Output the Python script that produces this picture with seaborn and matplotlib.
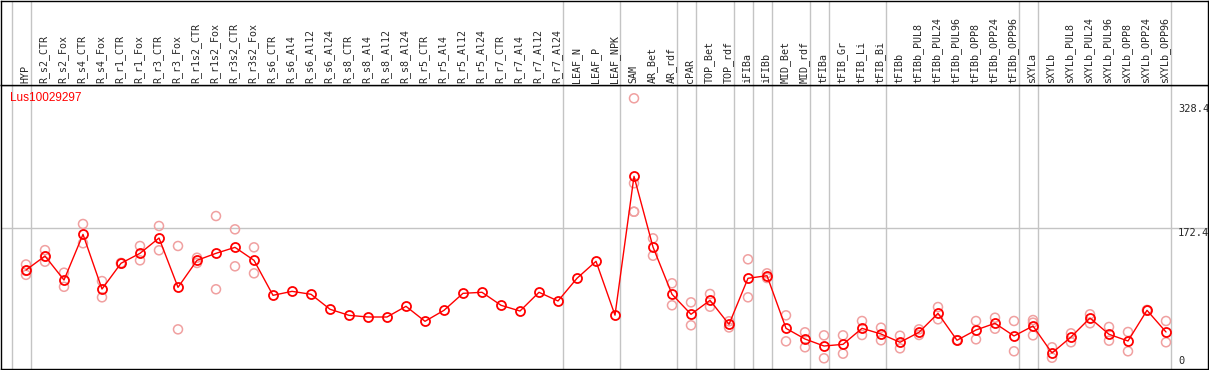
import numpy as np
import pandas as pd
import seaborn as sns
import matplotlib.pyplot as plt

sns.set_style("white")
plt.rcParams["font.family"] = ["DejaVu Sans Mono"]

# tissues (x axis categories)
tissues = ["HYP", "R_s2_CTR", "R_s2_Fox", "R_s4_CTR", "R_s4_Fox", "R_r1_CTR", "R_r1_Fox",
           "R_r3_CTR", "R_r3_Fox", "R_r1s2_CTR", "R_r1s2_Fox", "R_r3s2_CTR", "R_r3s2_Fox",
           "R_s6_CTR", "R_s6_Al4", "R_s6_Al12", "R_s6_Al24", "R_s8_CTR", "R_s8_Al4",
           "R_s8_Al12", "R_s8_Al24", "R_r5_CTR", "R_r5_Al4", "R_r5_Al12", "R_r5_Al24",
           "R_r7_CTR", "R_r7_Al4", "R_r7_Al12", "R_r7_Al24", "LEAF_N", "LEAF_P", "LEAF_NPK",
           "SAM", "AR_Bet", "AR_rdf", "cPAR", "TOP_Bet", "TOP_rdf", "iFIBa", "iFIBb",
           "MID_Bet", "MID_rdf", "tFIBa", "tFIB_Gr", "tFIB_Li", "tFIB_Bi", "tFIBb",
           "tFIBb_PUL8", "tFIBb_PUL24", "tFIBb_PUL96", "tFIBb_OPP8", "tFIBb_OPP24",
           "tFIBb_OPP96", "sXYLa", "sXYLb", "sXYLb_PUL8", "sXYLb_PUL24", "sXYLb_PUL96",
           "sXYLb_OPP8", "sXYLb_OPP24", "sXYLb_OPP96"]

# mean expression per tissue
mean_expr = [120, 137.6, 107.5, 164.8, 96.2, 128.5, 141, 160.2, 98.3, 132.2, 141, 148.5, 132.2,
             88.3, 93.3, 89.6, 70.8, 63.2, 61.1, 61.1, 74.5, 55.7, 69.5, 90.8, 92.1,
             75.8, 68.6, 92.1, 81.2, 109.7, 131, 63.4,
             237.6, 148.9, 89.6, 64.5, 82, 51.9, 109.7, 112.9,
             46.9, 33.5, 24.7, 26.8, 46.9, 39.8, 29.4,
             41.9, 65.7, 31.9, 44.8, 53.2, 37.3,
             49.8, 15.9, 36, 59.8, 39.4, 31, 69.5, 42.3]

nan = np.nan
# replicate values
rep1 = [127, 145, 116.7, 177.8, 106.2, 129, 150.2, 175.3, 150.2, 135.5, 187.8, 171.1, 148.5,
        nan, nan, nan, nan, nan, nan, nan, nan, nan, nan, nan, nan,
        nan, nan, nan, nan, nan, nan, nan,
        335.5, 159.8, 103.4, 79.5, 90, 55.7, 133.5, 115.9,
        63.2, 41.9, 38.1, 38.1, 56.1, 47.7, 37.6,
        45.6, 73.6, 32, 56.1, 60.2, 56.1,
        57.3, 23.1, 40.6, 64.5, 48.6, 42.3, 70, 56.1]
rep2 = [114, 130.5, 99, 153.6, 85.8, 128, 132.2, 144.8, 45.6, 128.9, 95.9, 124.7, 115.9,
        nan, nan, nan, nan, nan, nan, nan, nan, nan, nan, nan, nan,
        nan, nan, nan, nan, nan, nan, nan,
        228.9, 138, 75.8, 50.7, 74, 48, 85.8, 110,
        30.6, 23.1, 9.3, 15.1, 38.5, 31.9, 21.8,
        38.5, 58.2, 31.8, 33.1, 46.4, 18.1,
        38.1, 10, 29.4, 53.2, 31.4, 18.1, 69, 29.4]
rep3 = [119, 137, nan, nan, nan, nan, nan, nan, nan, nan, nan, nan, nan,
        nan, nan, nan, nan, nan, nan, nan, nan, nan, nan, nan, nan,
        nan, nan, nan, nan, nan, nan, nan,
        193.2, nan, nan, nan, nan, nan, nan, nan,
        nan, nan, nan, nan, nan, nan, nan,
        nan, nan, nan, nan, nan, nan,
        54, nan, nan, nan, nan, nan, nan, nan]
rep4 = [nan] * 32 + [193.2] + [nan] * 28

# first tissue of each group (grey separators)
group_starts = [0, 1, 29, 32, 35, 36, 38, 39, 40, 42, 43, 46, 53, 54, 61]

pos = np.arange(len(tissues))
means_df = pd.DataFrame({"pos": pos, "tissue": tissues, "mean": mean_expr})
reps_df = pd.DataFrame({"pos": pos, "r1": rep1, "r2": rep2, "r3": rep3, "r4": rep4})
reps_long = reps_df.melt(id_vars="pos", value_name="value").dropna()

W, H = 1209, 370
fig = plt.figure(figsize=(W / 100, H / 100), dpi=100)
ax = fig.add_axes([1 / W, 1 / H, 1207 / W, 284 / H])
ax_h = fig.add_axes([1 / W, 285 / H, 1207 / W, 84.5 / H])

xlim = ((1 - 26) / 19, (1208 - 26) / 19)
ylim = ((365.7 - 369) / 0.797, (365.7 - 85) / 0.797)
grey = "#c4c4c4"

for a in (ax, ax_h):
    a.set_xlim(*xlim)
    a.set_xticks([])
    a.set_yticks([])
    for s in a.spines.values():
        s.set_color("black")
        s.set_linewidth(1)
    for g in group_starts:
        a.axvline(g - 0.76, color=grey, lw=1, zorder=0)
ax.set_ylim(*ylim)
ax_h.set_ylim(0, 1)
ax.axhline(172.4, color=grey, lw=1, zorder=0)

sns.scatterplot(data=reps_long, x="pos", y="value", ax=ax, marker="o", s=42,
                facecolor="none", edgecolor="#f0a0a0", linewidth=1.1, zorder=2, legend=False)
sns.lineplot(data=means_df, x="pos", y="mean", ax=ax, color="red", lw=1,
             marker="o", markersize=6.5, markerfacecolor="none", markeredgecolor="red",
             markeredgewidth=1.3, zorder=3)
ax.set_xlabel("")
ax.set_ylabel("")

for i, t in enumerate(tissues):
    ax_h.text(i - 0.05, 0.025, t, rotation=90, ha="center", va="bottom", fontsize=7.2)

for v, lab in [(328.4, "328.4"), (172.4, "172.4")]:
    ax.text(60.63, v, lab, ha="left", va="top", fontsize=7.5)
ax.text(60.63, 0, "0", ha="left", va="bottom", fontsize=7.5)

fig.text(10 / W, 1 - 92 / H, "Lus10029297", color="red", fontsize=8.5,
         family="Liberation Sans", ha="left", va="top")

fig.savefig("out.png", dpi=100)
